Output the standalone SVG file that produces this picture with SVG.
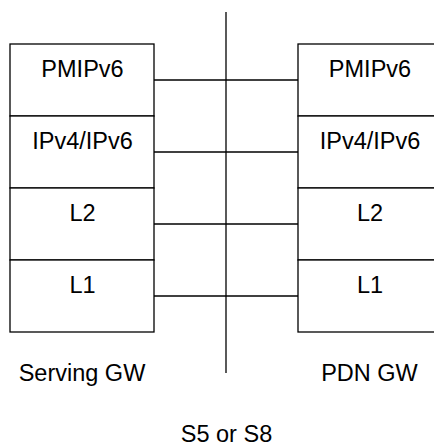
<svg xmlns="http://www.w3.org/2000/svg" width="434" height="446" viewBox="0 0 434 446">
<style>
.box{fill:#fff;stroke:#000;stroke-width:1.3}
.ln{stroke:#000;stroke-width:1.3;fill:none}
text{font-family:"Liberation Sans",Arial,sans-serif;font-size:23.5px;fill:#000;text-anchor:middle}
</style>
<rect width="434" height="446" fill="#fff"/>
<g id="connectors">
<line class="ln" x1="226" y1="12" x2="226" y2="373"/>
<line class="ln" x1="154" y1="80" x2="298" y2="80"/>
<line class="ln" x1="154" y1="152" x2="298" y2="152"/>
<line class="ln" x1="154" y1="224" x2="298" y2="224"/>
<line class="ln" x1="154" y1="296" x2="298" y2="296"/>
</g>
<g id="serving-gw">
<rect class="box" x="10" y="44" width="144" height="72"/>
<text x="82.5" y="77">PMIPv6</text>
<rect class="box" x="10" y="116" width="144" height="72"/>
<text x="82.5" y="149">IPv4/IPv6</text>
<rect class="box" x="10" y="188" width="144" height="72"/>
<text x="82.5" y="221">L2</text>
<rect class="box" x="10" y="260" width="144" height="72"/>
<text x="82.5" y="293">L1</text>
<text x="82" y="381">Serving GW</text>
</g>
<g id="pdn-gw">
<rect class="box" x="298" y="44" width="144" height="72"/>
<text x="370" y="77">PMIPv6</text>
<rect class="box" x="298" y="116" width="144" height="72"/>
<text x="370" y="149">IPv4/IPv6</text>
<rect class="box" x="298" y="188" width="144" height="72"/>
<text x="370" y="221">L2</text>
<rect class="box" x="298" y="260" width="144" height="72"/>
<text x="370" y="293">L1</text>
<text x="369.5" y="381">PDN GW</text>
</g>
<g id="interface-label">
<text x="226.5" y="442">S5 or S8</text>
</g>
</svg>
